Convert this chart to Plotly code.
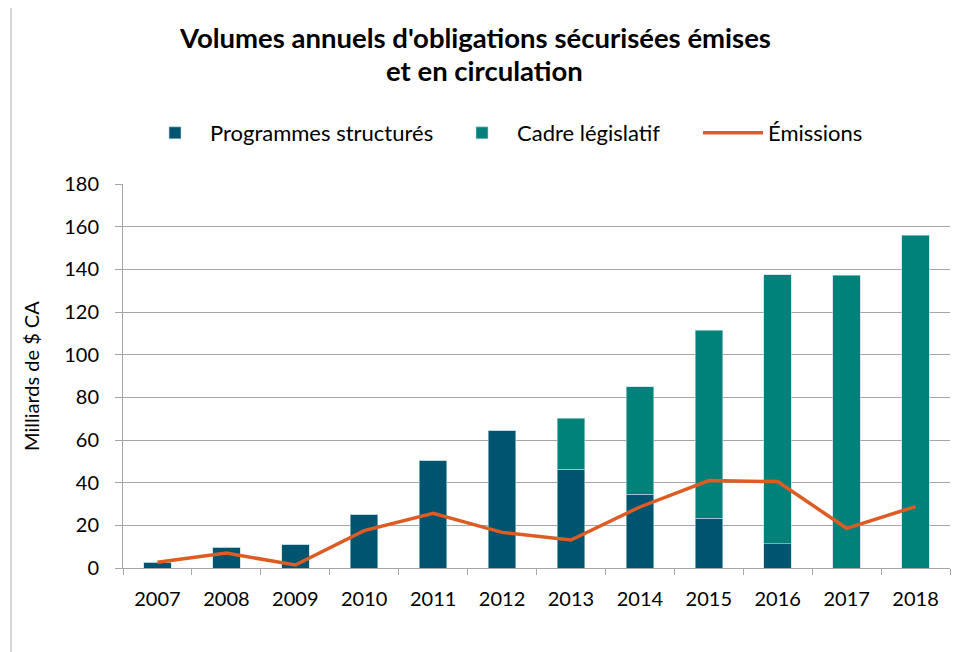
import plotly.graph_objects as go

years = ["2007", "2008", "2009", "2010", "2011", "2012", "2013", "2014", "2015", "2016", "2017", "2018"]
programmes_structures = [2.6, 9.7, 10.9, 24.9, 50.2, 64.3, 46.3, 34.6, 23.3, 11.4, 0, 0]
cadre_legislatif = [0, 0, 0, 0, 0, 0, 23.8, 50.4, 88.1, 126.0, 137.2, 156.0]
emissions = [2.7, 7.0, 1.4, 17.5, 25.6, 16.7, 13.1, 28.6, 41.0, 40.5, 18.6, 28.8]

navy = "#00546F"
teal = "#00827A"
orange = "#DC5C24"
font_family = "Lato, 'Open Sans', sans-serif"

# figure is placed at an 8px body offset in the page; sizes compensate for that
W, H = 955, 644
L, R, T, B = 115, 13, 176, 84
PW, PH = W - L - R, H - T - B


def px_x(x):
    return (x - 8 - L) / PW


def px_y(y):
    return (H - B - (y - 8)) / PH


fig = go.Figure()
fig.add_trace(go.Bar(x=years, y=programmes_structures, name="Programmes structurés",
                     marker=dict(color=navy, line=dict(color="#B8D8E0", width=0.6)), width=0.4,
                     legend="legend"))
fig.add_trace(go.Bar(x=years, y=cadre_legislatif, name="Cadre législatif",
                     marker=dict(color=teal, line=dict(color="#B8D8E0", width=0.6)), width=0.4,
                     legend="legend2"))
fig.add_trace(go.Scatter(x=years, y=emissions, name="Émissions", mode="lines",
                         line=dict(color=orange, width=3.5), legend="legend3"))


def leg(xpage):
    return dict(orientation="h", x=px_x(xpage), xanchor="left", y=px_y(133), yanchor="middle",
                font=dict(size=22), itemwidth=60, bgcolor="rgba(0,0,0,0)")


fig.update_layout(
    barmode="stack",
    width=W, height=H,
    margin=dict(l=L, r=R, t=T, b=B, autoexpand=False),
    paper_bgcolor="white", plot_bgcolor="white",
    font=dict(family=font_family, size=20, color="#000000"),
    legend=leg(140), legend2=leg(447), legend3=leg(698),
    showlegend=True,
)

fig.add_annotation(text="<b>Volumes annuels d'obligations sécurisées émises</b>",
                   xref="paper", yref="paper", x=px_x(475), y=px_y(37),
                   xanchor="center", yanchor="middle", showarrow=False,
                   font=dict(size=27.5, family=font_family, color="#000000"))
fig.add_annotation(text="<b>et en circulation</b>",
                   xref="paper", yref="paper", x=px_x(484), y=px_y(70),
                   xanchor="center", yanchor="middle", showarrow=False,
                   font=dict(size=27.5, family=font_family, color="#000000"))
fig.add_annotation(text="Milliards de $ CA", textangle=-90,
                   xref="paper", yref="paper", x=px_x(31), y=0.5,
                   xanchor="center", yanchor="middle", showarrow=False,
                   font=dict(size=20, family=font_family, color="#000000"))

fig.update_xaxes(type="category", showline=True, linecolor="#A6A6A6", linewidth=1,
                 ticks="outside", tickson="boundaries", ticklen=6, tickcolor="#A6A6A6",
                 showgrid=False, tickfont=dict(size=20), automargin=False,
                 ticklabelstandoff=13)
fig.update_yaxes(range=[0, 180], dtick=20, showline=True, linecolor="#A6A6A6", linewidth=1,
                 ticks="outside", ticklen=7, tickcolor="#A6A6A6",
                 showgrid=True, gridcolor="#A6A6A6", gridwidth=1, zeroline=False,
                 tickfont=dict(size=20), automargin=False, ticklabelstandoff=12)

# left border of the chart frame
fig.add_shape(type="line", xref="paper", yref="paper",
              x0=px_x(11), x1=px_x(11), y0=-B / PH, y1=(PH + T) / PH,
              line=dict(color="#C8C8C8", width=1.5))

fig.write_html("out.html")
